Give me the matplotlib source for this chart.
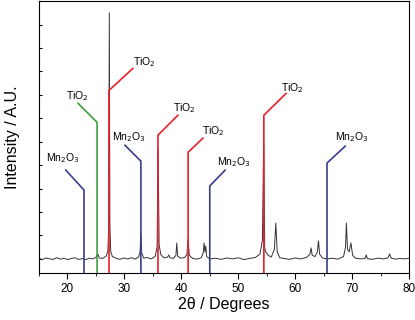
import matplotlib
matplotlib.use("Agg")
from matplotlib import pyplot as plt
import numpy as np

plt.rcParams['font.family'] = ['Liberation Sans', 'DejaVu Sans']

# XRD trace (2theta in degrees, intensity in arbitrary units)
two_theta = [15.0, 15.6, 16.2, 16.9, 17.5, 18.1, 18.8, 19.4, 20.0, 20.7, 21.3, 21.9, 22.6, 23.2,
             23.8, 24.4, 25.0, 25.3, 25.6, 26.2, 26.8, 27.1, 27.25, 27.35, 27.45, 27.6, 27.9,
             28.5, 29.2, 29.9, 30.6, 31.3, 31.9, 32.5, 32.75, 32.9, 33.05, 33.4, 34.0, 34.7,
             35.4, 35.75, 35.92, 36.1, 36.4, 37.0, 37.6, 37.8, 38.0, 38.6, 39.05, 39.2, 39.35,
             39.9, 40.6, 41.0, 41.2, 41.4, 42.0, 42.8, 43.5, 43.85, 44.0, 44.15, 44.3, 44.45,
             45.0, 46.0, 47.0, 48.0, 49.0, 50.0, 51.0, 52.0, 53.0, 53.8, 54.25, 54.47, 54.65,
             54.8, 55.0, 55.3, 55.8, 56.35, 56.6, 56.85, 57.3, 58.0, 59.0, 60.0, 61.0, 62.0,
             62.6, 62.8, 63.0, 63.5, 63.9, 64.1, 64.3, 64.8, 65.6, 66.5, 67.5, 68.5, 68.85,
             69.0, 69.2, 69.5, 69.8, 70.1, 70.6, 71.5, 72.3, 72.5, 72.7, 73.5, 74.5, 75.5, 76.3,
             76.6, 76.9, 77.6, 78.4, 79.2, 80.0]
intensity = [2, -3, 4, 0, -2, 5, -1, 3, -3, 2, 5, -2, 1, -3,
             3, 0, 6, 22, 4, 2, 12, 35, 140, 1050, 150, 30, 10,
             3, -2, 4, 0, 5, -1, 8, 30, 110, 25, 3, 6, 0,
             10, 50, 470, 60, 18, 4, 8, 17, 5, 2, 15, 68, 12,
             3, 6, 20, 85, 15, 2, -1, 5, 25, 68, 30, 55, 10,
             0, 3, -2, 4, 0, 5, -3, 2, 6, 20, 80, 505, 50,
             30, 25, 15, 8, 40, 153, 30, 5, 2, -2, 4, 0, 6,
             20, 47, 15, 10, 30, 77, 20, 4, 0, 3, -1, 10, 50,
             153, 40, 30, 68, 15, 3, 0, 2, 17, 1, -2, 3, 0, 4,
             21, 3, -1, 2, 0, 3]

# phase markers: phase, 2theta of reflection
phases = ["Mn$_2$O$_3$", "TiO$_2$", "TiO$_2$", "Mn$_2$O$_3$", "TiO$_2$",
          "TiO$_2$", "Mn$_2$O$_3$", "TiO$_2$", "Mn$_2$O$_3$"]
marker_pos = [22.9, 25.2, 27.3, 32.9, 35.9, 41.2, 45.0, 54.5, 65.6]
marker_colors = ["#3c3c8c", "#3fa03f", "#e8202a", "#3c3c8c", "#e8202a",
                 "#e8202a", "#3c3c8c", "#e8202a", "#3c3c8c"]
# knee height, end of slanted leg, label centre
knee_y = [294, 583, 719, 417, 528, 455, 311, 613, 409]
leg_end = [(19.7, 379), (21.85, 664), (31.5, 813), (30.1, 485), (39.4, 613),
           (43.8, 515), (47.7, 379), (58.4, 706), (68.8, 481)]
label_xy = [(19.1, 430), (21.7, 694), (33.5, 838), (30.8, 519), (40.5, 643),
            (45.7, 545), (49.3, 413), (59.5, 728), (70.0, 519)]


def main():
    fig = plt.figure(figsize=(4.15, 3.2), dpi=100)
    ax = fig.add_axes([0.094, 0.147, 0.8915, 0.851])
    y_bottom, y_top = -60, 1102

    ax.plot(two_theta, intensity, color="#333333", lw=0.7, zorder=2)

    for i in range(len(marker_pos)):
        x0 = marker_pos[i]
        ex, ey = leg_end[i]
        ax.plot([x0, x0, ex], [y_bottom, knee_y[i], ey], color=marker_colors[i],
                lw=1.2, zorder=3, solid_joinstyle="miter")
        ax.text(label_xy[i][0], label_xy[i][1], phases[i], fontsize=7.5,
                ha="center", va="center", zorder=4)

    ax.set_xlim(15, 80)
    ax.set_ylim(y_bottom, y_top)
    ax.set_xticks(np.arange(20, 81, 10))
    ax.set_xticks(np.arange(15, 80, 10), minor=True)
    ax.set_yticks(np.arange(0, 1101, 100))
    ax.set_yticklabels([])
    ax.tick_params(axis="x", which="major", direction="out", length=4, labelsize=8.5, pad=3)
    ax.tick_params(axis="x", which="minor", direction="out", length=2.5)
    ax.tick_params(axis="y", direction="in", length=2.5)

    ax.set_xlabel("2\u03b8 / Degrees", fontsize=11.5, labelpad=2)
    ax.set_ylabel("Intensity / A.U.", fontsize=11.5, labelpad=10)

    fig.savefig("out.png", dpi=100)


if __name__ == '__main__':
    main()
